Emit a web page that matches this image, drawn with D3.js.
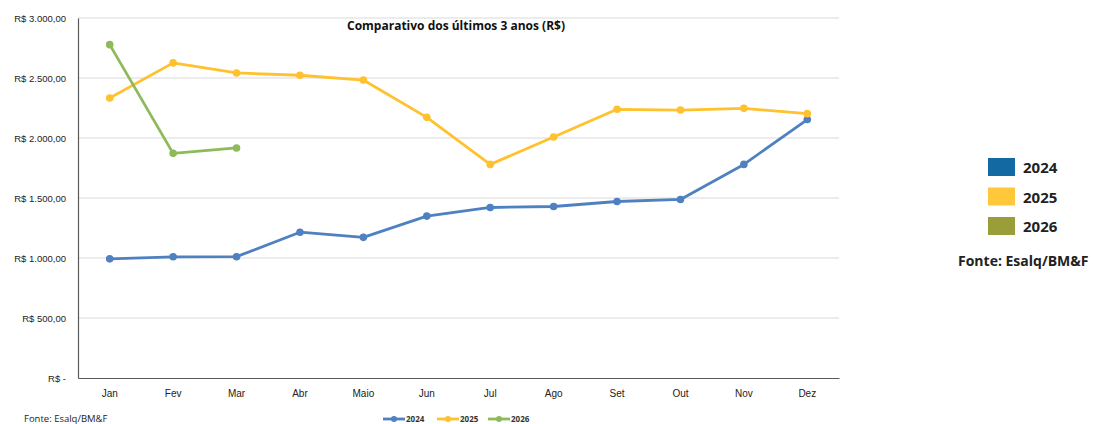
<!DOCTYPE html>
<html>
<head>
<meta charset="utf-8">
<script src="https://cdn.jsdelivr.net/npm/d3@7"></script>
<style>
  body { margin: 0; background: #fff; }
  svg { display: block; font-family: "Open Sans", "Liberation Sans", sans-serif; }
</style>
</head>
<body>
<div id="chart"></div>
<script>
// data
const months = ["Jan","Fev","Mar","Abr","Maio","Jun","Jul","Ago","Set","Out","Nov","Dez"];
const v2024 = [993, 1010, 1011, 1215, 1172, 1349, 1421, 1429, 1471, 1488, 1780, 2154];
const v2025 = [2333, 2626, 2542, 2523, 2483, 2172, 1780, 2008, 2239, 2233, 2247, 2203];
const v2026 = [2778, 1872, 1917];
const yTicks = [0, 500, 1000, 1500, 2000, 2500, 3000];
const years = ["2024", "2025", "2026"];
const lineColors = ["#4F81C1", "#FFC12E", "#8DBB5A"];
const boxColors = ["#136AA3", "#FFC83A", "#9A9E38"];

const W = 1093, H = 424;
const svg = d3.select("#chart").append("svg").attr("width", W).attr("height", H);

const margin = {top: 18, left: 78, right: 254, bottom: 46};
const plotW = W - margin.left - margin.right;
const plotH = H - margin.top - margin.bottom;
const g = svg.append("g").attr("transform", `translate(${margin.left},${margin.top})`);

const x = d3.scaleBand().domain(months).range([0, plotW]);
const y = d3.scaleLinear().domain([0, 3000]).range([plotH, 0]);

// gridlines
g.selectAll(".grid").data(yTicks.filter(d => d > 0)).enter()
  .append("line")
  .attr("x1", 0).attr("x2", plotW)
  .attr("y1", d => y(d)).attr("y2", d => y(d))
  .attr("stroke", "#d9d9d9").attr("stroke-width", 1);

// axes
const fmt = d => d === 0 ? "R$ -" : "R$ " + d3.format(",.2f")(d).replace(/,/g, "#").replace(".", ",").replace(/#/g, ".");
const yAxis = g.append("g").call(d3.axisLeft(y).tickValues(yTicks).tickSize(0).tickPadding(12).tickFormat(fmt));
yAxis.select(".domain").attr("stroke", "#595959").attr("stroke-width", 1.2);
yAxis.selectAll("text").attr("font-size", "9.5px").attr("fill", "#222");

const xAxis = g.append("g").attr("transform", `translate(0,${plotH})`)
  .call(d3.axisBottom(x).tickSize(0).tickPadding(12));
xAxis.select(".domain").attr("stroke", "#595959").attr("stroke-width", 1.2);
xAxis.selectAll("text").attr("font-size", "10px").attr("fill", "#222");

// lines
const series = [v2024, v2025, v2026];
const line = d3.line().x((d, i) => x(months[i]) + x.bandwidth() / 2).y(d => y(d));
series.forEach((vals, k) => {
  g.append("path").datum(vals)
    .attr("d", line).attr("fill", "none")
    .attr("stroke", lineColors[k]).attr("stroke-width", 2.8)
    .attr("stroke-linejoin", "round");
  g.selectAll(".pt" + k).data(vals).enter()
    .append("circle")
    .attr("cx", (d, i) => x(months[i]) + x.bandwidth() / 2)
    .attr("cy", d => y(d))
    .attr("r", 3.8)
    .attr("fill", lineColors[k]);
});

// title
svg.append("text").attr("x", 456).attr("y", 30).attr("text-anchor", "middle")
  .attr("font-size", "12px").attr("font-weight", "bold").attr("fill", "#111")
  .text("Comparativo dos últimos 3 anos (R$)");

// bottom legend
const leg = svg.append("g").attr("transform", "translate(383,419)");
const legX = [0, 54, 105];
years.forEach((yr, k) => {
  const lg = leg.append("g").attr("transform", `translate(${legX[k]},0)`);
  lg.append("line").attr("x1", 0).attr("x2", 22).attr("y1", 0).attr("y2", 0)
    .attr("stroke", lineColors[k]).attr("stroke-width", 2.8);
  lg.append("circle").attr("cx", 11).attr("cy", 0).attr("r", 3).attr("fill", lineColors[k]);
  lg.append("text").attr("x", 23).attr("y", 3).attr("font-size", "8px")
    .attr("font-weight", "bold").attr("fill", "#333").text(yr);
});

svg.append("text").attr("x", 24).attr("y", 422).attr("font-size", "9.5px")
  .attr("fill", "#222").text("Fonte: Esalq/BM&F");

// right legend
years.forEach((yr, k) => {
  const yy = 158 + k * 29.5;
  svg.append("rect").attr("x", 988).attr("y", yy).attr("width", 27).attr("height", 18)
    .attr("fill", boxColors[k]);
  svg.append("text").attr("x", 1023).attr("y", yy + 15).attr("font-size", "15px")
    .attr("font-weight", "bold").attr("fill", "#222").text(yr);
});
svg.append("text").attr("x", 958).attr("y", 266).attr("font-size", "14px")
  .attr("font-weight", "bold").attr("fill", "#222").text("Fonte: Esalq/BM&F");
</script>
</body>
</html>
